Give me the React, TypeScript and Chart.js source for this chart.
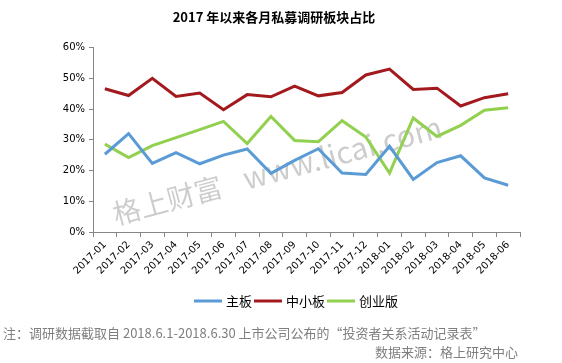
import React, { useEffect, useRef } from "react";
import { Chart, registerables } from "chart.js";
Chart.register(...registerables);

const months = [
  "2017-01", "2017-02", "2017-03", "2017-04", "2017-05", "2017-06",
  "2017-07", "2017-08", "2017-09", "2017-10", "2017-11", "2017-12",
  "2018-01", "2018-02", "2018-03", "2018-04", "2018-05", "2018-06",
];
const mainBoard = [25.3, 32.0, 22.3, 25.8, 22.2, 25.0, 27.0, 19.1, 23.3, 27.1, 19.2, 18.7, 27.9, 17.1, 22.6, 24.8, 17.6, 15.2];
const smeBoard = [46.6, 44.4, 50.0, 44.1, 45.2, 39.8, 44.7, 44.0, 47.5, 44.3, 45.4, 51.1, 53.0, 46.4, 46.8, 41.0, 43.7, 45.0];
const gemBoard = [28.6, 24.2, 28.1, 30.7, 33.3, 36.0, 28.8, 37.6, 29.8, 29.4, 36.2, 30.9, 19.2, 37.1, 31.1, 34.7, 39.6, 40.4];
const seriesNames = ["主板", "中小板", "创业版"];
const seriesColors = ["#5B9BD5", "#A31A1E", "#92D050"];

const titleText = "2017 年以来各月私募调研板块占比";
const noteText = "注：调研数据截取自 2018.6.1-2018.6.30 上市公司公布的“投资者关系活动记录表”";
const sourceText = "数据来源：格上研究中心";
const watermarkCn = "格上财富";
const watermarkUrl = "www.licai.com";

const CJK = '"Noto Sans CJK SC", "Noto Sans", sans-serif';
const AX = '"DejaVu Sans", "Noto Sans", sans-serif';

const extras = {
  id: "extras",
  beforeDatasetsDraw(chart: any) {
    const ctx = chart.ctx;
    ctx.save();
    ctx.translate(116, 225);
    ctx.rotate((-15 * Math.PI) / 180);
    ctx.fillStyle = "rgba(0,0,0,0.2)";
    ctx.textAlign = "left";
    ctx.textBaseline = "alphabetic";
    ctx.font = `28px ${CJK}`;
    ctx.fillText(watermarkCn, 0, 0);
    ctx.font = `30px ${CJK}`;
    ctx.fillText(watermarkUrl, 135, 0);
    ctx.restore();
  },
  afterDraw(chart: any) {
    const ctx = chart.ctx;
    ctx.save();
    // legend
    ctx.font = `13px ${CJK}`;
    ctx.textBaseline = "middle";
    const lineW = 28, gap = 4, itemGap = 2;
    const ds = chart.data.datasets;
    let total = 0;
    ds.forEach((d: any, i: number) => {
      total += lineW + gap + ctx.measureText(d.label).width + (i < ds.length - 1 ? itemGap : 0);
    });
    let x = 296 - total / 2;
    const ly = 301;
    ds.forEach((d: any) => {
      ctx.strokeStyle = d.borderColor;
      ctx.lineWidth = 3;
      ctx.beginPath();
      ctx.moveTo(x, ly);
      ctx.lineTo(x + lineW, ly);
      ctx.stroke();
      x += lineW + gap;
      ctx.fillStyle = "#000";
      ctx.textAlign = "left";
      ctx.fillText(d.label, x, ly);
      x += ctx.measureText(d.label).width + itemGap;
    });
    // footnotes
    ctx.fillStyle = "#7f7f7f";
    ctx.font = `13px ${CJK}`;
    ctx.textAlign = "left";
    ctx.fillText(noteText, 3, 333);
    ctx.textAlign = "right";
    ctx.fillText(sourceText, 518, 352);
    ctx.restore();
  },
};

export default function App() {
  const ref = useRef<HTMLCanvasElement>(null);
  useEffect(() => {
    document.body.style.margin = "0";
    const values = [mainBoard, smeBoard, gemBoard];
    const chart = new Chart(ref.current!, {
      type: "line",
      data: {
        labels: months,
        datasets: seriesNames.map((n, i) => ({
          label: n,
          data: values[i],
          borderColor: seriesColors[i],
          backgroundColor: seriesColors[i],
          borderWidth: 3,
          pointRadius: 0,
          tension: 0,
          fill: false,
        })),
      },
      options: {
        responsive: false,
        animation: false,
        layout: { padding: { left: 28, right: 42, top: 0, bottom: 71 } },
        plugins: {
          legend: { display: false },
          tooltip: { enabled: false },
          title: {
            display: true,
            text: titleText,
            color: "#000",
            font: { family: CJK, size: 13, weight: "bold" },
            padding: { top: 9, bottom: 23 },
          },
        },
        scales: {
          x: {
            offset: true,
            grid: { display: true, offset: true, drawOnChartArea: false, tickLength: 5, color: "#868686" },
            border: { color: "#868686" },
            ticks: {
              minRotation: 45,
              maxRotation: 45,
              autoSkip: false,
              color: "#000",
              font: { family: AX, size: 10 },
              padding: 2,
            },
            afterFit: (s: any) => { s.height = 60; },
          },
          y: {
            min: 0,
            max: 60,
            grid: { display: true, drawOnChartArea: false, tickLength: 4, color: "#868686" },
            border: { color: "#868686" },
            ticks: {
              stepSize: 10,
              color: "#000",
              font: { family: AX, size: 10 },
              padding: 4,
              callback: (v: any) => v + "%",
            },
            afterFit: (s: any) => { s.width = 65; },
          },
        },
      },
      plugins: [extras],
    });
    return () => chart.destroy();
  }, []);
  return (
    <div style={{ position: "absolute", left: 0, top: 0, width: 562, height: 363 }}>
      <canvas ref={ref} width={562} height={363} style={{ display: "block" }} />
    </div>
  );
}
